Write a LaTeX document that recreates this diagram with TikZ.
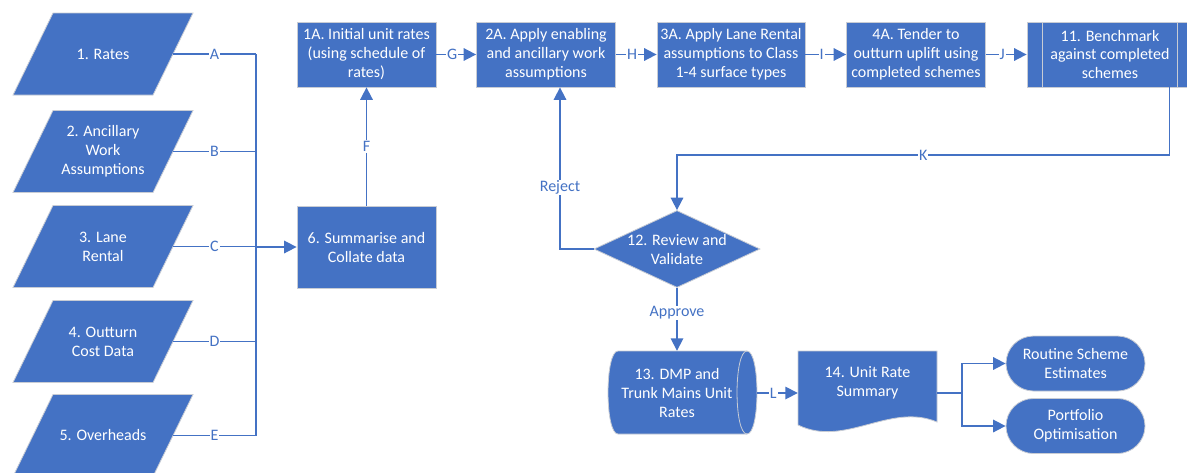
\documentclass[tikz,border=0pt]{standalone}
\usepackage{fontspec}
\setmainfont{Carlito}
\usetikzlibrary{arrows.meta,shapes.geometric,calc}
\definecolor{flowblue}{HTML}{4472C4}
\definecolor{edgegray}{HTML}{C8CCD4}

% data (input/output) parallelogram: name, centre x, centre y, text
\newcommand\ioshape[4]{%
  \path[shapefill] ({#2-50},{#3-41}) -- ({#2+90},{#3-41}) -- ({#2+50},{#3+41}) -- ({#2-90},{#3+41}) -- cycle;
  \node[nodetext] (#1) at (#2,#3) {#4};
  \coordinate (#1e) at ({#2+70},#3);
}

\begin{document}
\begin{tikzpicture}[x=1pt,y=-1pt,
  every node/.style={font=\fontsize{16}{19}\selectfont},
  shapefill/.style={fill=flowblue, draw=edgegray, line width=0.8pt},
  nodetext/.style={text=white, align=center, inner sep=0pt},
  box/.style={rectangle, shapefill, text=white, align=center,
    minimum width=139, minimum height=65, inner sep=1pt},
  terminal/.style={box, rounded corners=27.5, minimum height=55},
  conn/.style={draw=flowblue, line width=1.7pt},
  arr/.style={conn, -{Triangle[length=12.5pt,width=12.5pt]}},
  lbl/.style={fill=white, text=flowblue, inner sep=1pt}
]
\useasboundingbox (0,0) rectangle (1187,472);
\fill[white] (0,0) rectangle (1187,472);
\clip (0,0) rectangle (1187,472);

% input data
\ioshape{r1}{103}{54}{1. Rates}
\ioshape{r2}{103}{151.5}{2. Ancillary\\Work\\Assumptions}
\ioshape{r3}{103}{246.5}{3. Lane\\Rental}
\ioshape{r4}{103}{341.5}{4. Outturn\\Cost Data}
\ioshape{r5}{103}{435.5}{5. Overheads}

% process boxes
\node[box, minimum height=82] (s6) at (366.5,247) {6. Summarise and\\Collate data};
\node[box] (b1a) at (366.5,54.5) {1A. Initial unit rates\\(using schedule of\\rates)};
\node[box] (b2a) at (546,54.5) {2A. Apply enabling\\and ancillary work\\assumptions};
\node[box, minimum width=148] (b3a) at (731,54.5) {3A. Apply Lane Rental\\assumptions to Class\\1-4 surface types};
\node[box] (b4a) at (916,54.5) {4A. Tender to\\outturn uplift using\\completed schemes};
\node[box, minimum width=166] (b11) at (1110,54.5) {11. Benchmark\\against completed\\schemes};
\draw[edgegray, line width=0.8pt] ($(b11.north west)+(16,0)$) -- ($(b11.south west)+(16,0)$);
\draw[edgegray, line width=0.8pt] ($(b11.north east)+(-16,0)$) -- ($(b11.south east)+(-16,0)$);

% decision
\node[diamond, shapefill, minimum width=166, minimum height=77, inner sep=0pt] (d12) at (677,249) {};
\node[nodetext] at (d12) {12. Review and\\Validate};

% direct access storage
\path[shapefill] (618,351) -- (747,351)
  .. controls (760.3,351) and (760.3,434) .. (747,434) -- (618,434)
  .. controls (604.7,434) and (604.7,351) .. (618,351) -- cycle;
\draw[edgegray, line width=0.8pt] (747,351) .. controls (733.7,351) and (733.7,434) .. (747,434);
\node[nodetext, minimum width=160, minimum height=83] (c13) at (677,392.5) {13. DMP and\\Trunk Mains Unit\\Rates};

% document
\path[shapefill] (798,351) -- (937,351) -- (937,422)
  .. controls (890,402) and (845,448) .. (798,425) -- cycle;
\node[nodetext, minimum width=139, minimum height=63] (d14) at (867.5,382.5) {14. Unit Rate\\Summary};

% outputs
\node[terminal] (t1) at (1075.5,363.5) {Routine Scheme\\Estimates};
\node[terminal] (t2) at (1075.5,426) {Portfolio\\Optimisation};

% collector bus from the inputs
\coordinate (bus) at (256,247);
\draw[conn] (r1e) -- node[lbl]{A} (r1e -| bus);
\draw[conn] (r2e) -- node[lbl]{B} (r2e -| bus);
\draw[conn] (r3e) -- node[lbl]{C} (r3e -| bus);
\draw[conn] (r4e) -- node[lbl]{D} (r4e -| bus);
\draw[conn] (r5e) -- node[lbl]{E} (r5e -| bus);
\draw[conn] (r1e -| bus) -- (r5e -| bus);
\draw[arr] (bus) -- (s6.west);

% main process chain
\draw[arr] (s6.north) -- node[lbl]{F} (b1a.south);
\draw[arr] (b1a.east) -- node[lbl,pos=0.4]{G} (b2a.west);
\draw[arr] (b2a.east) -- node[lbl,pos=0.4]{H} (b3a.west);
\draw[arr] (b3a.east) -- node[lbl,pos=0.4]{I} (b4a.west);
\draw[arr] (b4a.east) -- node[lbl,pos=0.4]{J} (b11.west);

% feedback to review
\coordinate (k0) at ($(b11.south east)+(-24,0)$);
\coordinate (kb) at (677,155);
\draw[arr] (k0) |- node[lbl,pos=0.75]{K} (kb) -- (d12.north);

\coordinate (rj) at ($(b2a.south)+(14,0)$);
\draw[arr] (d12.west) -| node[lbl,pos=0.69]{Reject} (rj);
\draw[arr] (d12.south) -- node[lbl,pos=0.4]{Approve} (c13.north);

% results
\coordinate (c13e) at (757,393);
\draw[arr] (c13e) -- node[lbl,pos=0.4]{L} (c13e -| d14.west);
\coordinate (br) at (962,393);
\draw[conn] (d14.east |- br) -- (br);
\draw[arr] (br) |- (t1.west);
\draw[arr] (br) |- (t2.west);
\end{tikzpicture}
\end{document}
